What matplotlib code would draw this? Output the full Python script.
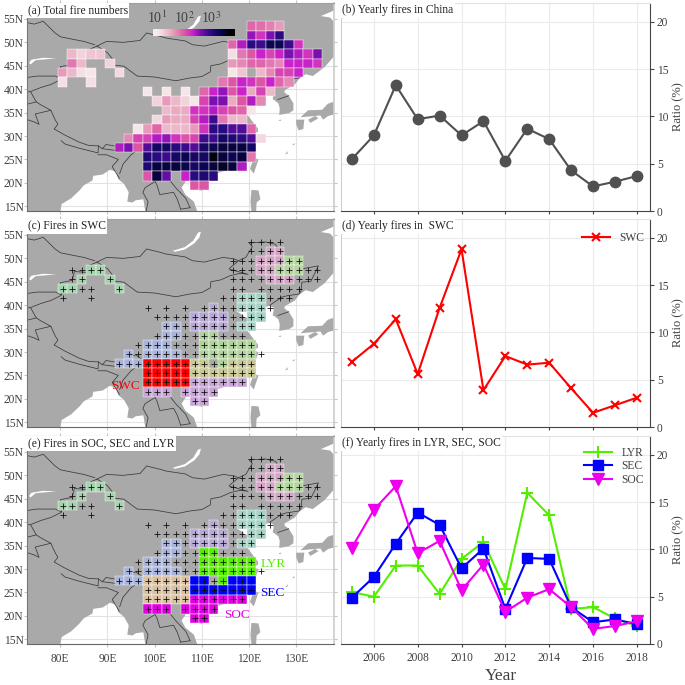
"""Fire number maps and yearly ratio curves, six panels. Writes out.png."""
import matplotlib
matplotlib.use("Agg")
import matplotlib.pyplot as plt
from matplotlib.colors import LinearSegmentedColormap, Normalize
from matplotlib.patches import Polygon, Rectangle
import numpy as np

plt.rcParams["font.family"] = ["Liberation Serif", "DejaVu Serif"]
plt.rcParams["mathtext.fontset"] = "stix"

years = list(range(2005, 2019))
china = [5.5, 8.0, 13.3, 9.7, 10.1, 8.0, 9.5, 5.3, 8.7, 7.6, 4.3, 2.6, 3.1, 3.7]
swc = [6.9, 8.8, 11.4, 5.6, 12.6, 18.8, 3.9, 7.5, 6.6, 6.8, 4.1, 1.5, 2.3, 3.1]
lyr = [5.5, 5.0, 8.3, 8.3, 5.3, 9.0, 10.8, 5.8, 16.0, 13.6, 3.7, 3.9, 2.7, 1.9]
sec = [4.9, 7.1, 10.6, 13.9, 12.6, 8.0, 10.1, 3.7, 9.1, 9.0, 3.9, 2.3, 2.6, 2.1]
soc = [10.2, 14.2, 16.7, 9.6, 10.9, 5.7, 8.4, 3.4, 4.9, 5.8, 3.9, 1.6, 1.9, 2.4]

# log10 fire number per 2 degree cell, one list per latitude row: (lon, value)
row_53 = [(120.5, 1.9), (122.5, 1.85), (124.5, 1.75), (126.5, 1.6)]
row_51 = [(120.5, 2.5), (122.5, 2.2), (124.5, 2.6), (126.5, 3.0)]
row_49 = [(116.5, 1.9), (118.5, 2.4), (120.5, 3.0), (122.5, 2.9), (124.5, 3.3),
          (126.5, 3.3), (128.5, 2.9), (130.5, 2.2)]
row_47 = [(82.5, 1.4), (84.5, 1.2), (86.5, 1.3), (88.5, 1.3), (116.5, 1.1),
          (118.5, 1.8), (120.5, 2.0), (122.5, 2.3), (124.5, 2.1), (126.5, 2.3),
          (128.5, 2.6), (130.5, 2.4), (132.5, 2.2), (134.5, 2.6)]
row_45 = [(82.5, 1.8), (84.5, 1.4), (90.5, 1.2), (116.5, 1.6), (118.5, 1.7),
          (120.5, 1.9), (122.5, 1.9), (124.5, 1.8), (126.5, 1.7), (128.5, 2.3),
          (130.5, 2.3), (132.5, 2.3), (134.5, 2.2)]
row_43 = [(80.5, 1.6), (82.5, 1.4), (84.5, 1.1), (86.5, 1.05), (92.5, 1.15),
          (116.5, 1.05), (118.5, 1.3), (122.5, 1.4), (124.5, 1.7), (126.5, 2.1),
          (128.5, 2.1), (130.5, 2.3)]
row_41 = [(80.5, 1.1), (86.5, 1.1), (114.5, 1.8), (116.5, 2.0), (118.5, 2.3),
          (120.5, 2.2), (122.5, 2.0), (124.5, 2.3), (126.5, 1.9), (128.5, 1.7)]
row_39 = [(98.5, 1.05), (102.5, 1.05), (106.5, 1.05), (110.5, 1.9), (112.5, 2.3),
          (114.5, 2.5), (116.5, 2.0), (118.5, 2.3), (120.5, 1.5), (122.5, 2.1),
          (124.5, 1.4)]
row_37 = [(100.5, 1.2), (102.5, 1.6), (104.5, 1.4), (106.5, 1.2), (108.5, 1.05),
          (110.5, 2.1), (112.5, 2.6), (114.5, 2.6), (116.5, 1.5), (118.5, 2.0),
          (120.5, 2.4), (122.5, 1.7)]
row_35 = [(102.5, 1.4), (104.5, 1.5), (106.5, 1.5), (108.5, 2.2), (110.5, 2.2),
          (112.5, 2.4), (114.5, 2.1), (116.5, 2.0), (118.5, 1.9), (120.5, 1.05)]
row_33 = [(100.5, 1.15), (102.5, 1.6), (104.5, 1.5), (106.5, 1.5), (108.5, 2.1),
          (110.5, 2.4), (112.5, 2.9), (114.5, 1.8), (116.5, 1.4), (118.5, 1.4)]
row_31 = [(96.5, 1.05), (98.5, 1.6), (100.5, 1.9), (102.5, 1.4), (104.5, 1.4),
          (106.5, 1.4), (108.5, 1.6), (110.5, 2.2), (112.5, 3.0), (114.5, 3.0),
          (116.5, 2.8), (118.5, 2.8), (120.5, 1.9)]
row_29 = [(94.5, 1.7), (96.5, 2.1), (98.5, 2.1), (100.5, 2.4), (102.5, 2.5),
          (104.5, 2.2), (106.5, 2.0), (108.5, 2.1), (110.5, 2.9), (112.5, 2.9),
          (114.5, 3.2), (116.5, 3.1), (118.5, 3.0), (120.5, 2.8), (122.5, 1.15)]
row_27 = [(92.5, 2.4), (94.5, 2.6), (96.5, 2.0), (98.5, 2.8), (100.5, 3.2),
          (102.5, 3.2), (104.5, 3.0), (106.5, 2.9), (108.5, 2.8), (110.5, 3.2),
          (112.5, 3.3), (114.5, 3.4), (116.5, 3.4), (118.5, 3.4), (120.5, 3.2)]
row_25 = [(98.5, 3.1), (100.5, 3.0), (102.5, 2.9), (104.5, 3.2), (106.5, 3.3),
          (108.5, 3.2), (110.5, 3.2), (112.5, 3.6), (114.5, 3.4), (116.5, 3.3),
          (118.5, 3.4), (120.5, 1.8)]
row_23 = [(98.5, 3.1), (100.5, 3.4), (102.5, 3.4), (104.5, 3.4), (106.5, 3.3),
          (108.5, 3.2), (110.5, 3.3), (112.5, 3.4), (114.5, 3.5), (116.5, 3.4),
          (118.5, 2.4)]
row_21 = [(98.5, 2.0), (100.5, 3.4), (102.5, 2.7), (106.5, 2.3), (108.5, 3.0),
          (110.5, 3.1), (112.5, 3.0)]
row_19 = [(108.5, 2.0), (110.5, 2.0)]
fire_rows = {53.5: row_53, 51.5: row_51, 49.5: row_49, 47.5: row_47, 45.5: row_45,
             43.5: row_43, 41.5: row_41, 39.5: row_39, 37.5: row_37, 35.5: row_35,
             33.5: row_33, 31.5: row_31, 29.5: row_29, 27.5: row_27, 25.5: row_25,
             23.5: row_23, 21.5: row_21, 19.5: row_19}

# cluster membership: (lat, [lons])
cl_nw = [(47.5, [86.5, 88.5]), (45.5, [84.5, 90.5]), (43.5, [80.5, 82.5, 92.5])]
cl_ne1 = [(51.5, [124.5, 126.5]), (49.5, [122.5, 124.5, 126.5]), (47.5, [122.5, 124.5]),
          (45.5, [124.5, 126.5, 128.5])]
cl_ne2 = [(49.5, [128.5, 130.5]), (47.5, [126.5, 128.5, 130.5])]
cl_nc = [(41.5, [118.5, 120.5, 122.5]), (39.5, [118.5, 120.5, 122.5]),
         (37.5, [120.5, 122.5]), (35.5, [118.5, 120.5])]
cl_hb = [(39.5, [112.5]), (37.5, [108.5, 110.5, 112.5, 114.5]),
         (35.5, [108.5, 110.5, 112.5, 114.5])]
cl_tp = [(35.5, [102.5, 104.5]), (33.5, [102.5, 104.5]), (31.5, [98.5, 100.5, 102.5]),
         (29.5, [94.5, 98.5, 100.5, 102.5, 104.5]), (27.5, [92.5, 94.5, 96.5])]
cl_swc = [(27.5, [98.5, 100.5, 102.5, 104.5, 106.5]),
          (25.5, [98.5, 100.5, 102.5, 104.5, 106.5]),
          (23.5, [98.5, 100.5, 102.5, 104.5, 106.5])]
cl_lyr = [(33.5, [110.5, 112.5]), (31.5, [110.5, 112.5, 114.5, 116.5, 118.5, 120.5]),
          (29.5, [110.5, 112.5, 114.5, 116.5, 118.5, 120.5]), (27.5, [114.5])]
cl_sec = [(27.5, [108.5, 110.5, 116.5, 118.5, 120.5]),
          (25.5, [108.5, 110.5, 112.5, 114.5, 116.5, 118.5, 120.5])]
cl_soc = [(23.5, [108.5, 110.5, 112.5, 114.5, 116.5, 118.5]),
          (21.5, [98.5, 100.5, 102.5, 106.5, 108.5, 110.5, 112.5]),
          (19.5, [108.5, 110.5])]

# map outlines, lon/lat
land = [(73, 60), (138, 60), (138, 47.0), (136, 44.7), (133.5, 42.8), (132, 43.2),
        (130.7, 42.3), (129.7, 41), (127.6, 39.8), (127.5, 39.3), (128.4, 38.6),
        (129.4, 37), (129.4, 35.5), (128.5, 34.9), (126.4, 34.5), (126.5, 36),
        (126.2, 37), (125, 37.9), (125.2, 38.7), (125.2, 39.5), (124.3, 39.9),
        (122, 39), (121.2, 38.8), (122, 40.5), (121, 40.8), (119.5, 39.8), (118, 39.2),
        (117.7, 38.5), (118.8, 37.8), (119, 37.2), (120.7, 37.8), (122.5, 37.2),
        (120.3, 36), (119.3, 35), (120.8, 33), (121.9, 31.6), (121.9, 30.9), (121, 30.5),
        (122, 29.9), (121.5, 28.5), (120, 26.5), (119, 25.3), (118, 24.4), (116.5, 23),
        (114, 22.3), (112, 21.7), (110.5, 21.2), (110.3, 20.3), (109.8, 20.3),
        (109.7, 21.5), (108.3, 21.6), (106.7, 20.5), (105.7, 19), (106.5, 17.5),
        (108.3, 16), (109, 14), (98, 14), (97.6, 16.5), (96, 16.3), (95.3, 15.8),
        (94.2, 16), (94.5, 18), (93.5, 19.8), (92.3, 20.8), (91.8, 22.4), (90.5, 22.8),
        (89, 21.8), (87, 21.5), (86.8, 20.5), (85, 19.5), (84, 18.3), (82.3, 16.7),
        (80.3, 15.5), (80, 14), (73, 14)]
hainan = [(108.7, 19.3), (109.6, 20), (110.7, 20), (111, 19.6), (110, 18.3), (109, 18.5)]
taiwan = [(121.5, 25.2), (122, 25), (121, 22), (120.2, 23), (120.7, 24.5)]
honshu = [(130.9, 34), (132.5, 35.5), (135.5, 35.6), (136.7, 36.9), (138.5, 37.5),
          (138.5, 34.7), (136.8, 34.3), (135.7, 33.5), (135.1, 34.4), (133, 34.2)]
kyushu = [(130, 33.5), (131.7, 33.5), (131.5, 31.5), (130.5, 31.2), (130, 32.5)]
shikoku = [(132.5, 33.5), (134, 34.3), (134.7, 33.8), (133, 32.8)]
luzon = [(120.5, 18.5), (122, 18.4), (122.4, 16.5), (121.6, 15.8), (121.5, 14),
         (120.5, 14), (120.3, 16)]
jeju = [(126.2, 33.4), (126.9, 33.5), (126.6, 33.2)]
okinawa = [(127.6, 26.1), (128.3, 26.8), (128.1, 26.2)]
amami = [(129.2, 28.2), (129.7, 28.5), (129.5, 28.0)]
sea_top = [(138.2, 56.9), (135.2, 55.6), (137.2, 55.3), (138.2, 54.1)]
baikal = [(103.8, 51.6), (106.4, 52.4), (108.2, 53.8), (109.2, 55.5), (109.8, 55.7),
          (109.5, 54.5), (108.4, 53.2), (106.4, 51.9), (104.3, 51.4)]
balkhash = [(73.4, 45.6), (73.9, 46.3), (76.4, 46.7), (79.1, 46.6), (77.1, 46.4),
            (74.8, 46.2), (73.7, 45.3)]

border_north = [(87.8, 49.2), (90, 47.8), (91, 46.5), (91, 45.2), (93.5, 44.9), (96.3, 42.8),
                (100, 42.6), (104.5, 41.8), (107.5, 42.4), (110, 42.7), (111.8, 43.7),
                (111.9, 45), (114, 45.4), (116, 46.3), (118, 46.8), (119.8, 46.6),
                (115.8, 47.7), (116, 48), (117.8, 49.5), (119.3, 50.2), (120.7, 52.5),
                (120, 53.3), (123.5, 53.5), (125.6, 53), (127.5, 50), (127.5, 49.7),
                (130.7, 48.9), (131, 47.7), (134.7, 48.4), (133.1, 45.1), (131.2, 44.9),
                (131, 43), (130.6, 42.4), (128, 42), (126.9, 41.7), (124.4, 40)]
border_west = [(87.8, 49.2), (85.7, 48.3), (85.5, 47), (83, 47.2), (82.5, 45.3), (80, 44.8),
               (80.4, 43), (80.2, 42.1), (78, 41), (76, 40.4), (73.7, 39.5), (74.9, 37.3),
               (75.8, 36.7), (78, 35.5), (78.9, 33.5), (79.5, 32.5), (78.7, 31.5), (81, 30.2),
               (84, 28.7), (86, 28), (88.1, 27.9), (88.9, 27.3), (89.7, 28.2), (92, 27.8),
               (93.5, 28.5), (96, 29.4), (97.5, 28.3), (98.7, 27.5), (98.6, 25.8),
               (97.6, 24.5), (99, 23.1), (99.5, 22), (101.2, 21.2), (101.8, 22.4), (103, 22.5),
               (105.3, 23.3), (106.7, 22), (108, 21.55)]
border_mongolia = [(87.8, 49.2), (89.8, 50.2), (93.3, 50), (96.9, 50.4), (98.3, 52),
                   (101.1, 51.3), (102.5, 50.9), (106.5, 50.3), (108, 49.5), (110.5, 49.2),
                   (114.5, 50.2), (116.7, 49.9), (117.8, 49.5)]
border_kaz = [(73, 54.2), (74.5, 53.9), (76.4, 54.5), (78.9, 52), (80, 51.2), (82.4, 50.7),
              (85, 50.2), (87.3, 49.5)]
border_kyr = [(73, 42.5), (75, 42.8), (79, 42.8), (80.2, 42.2)]
border_taj = [(73, 39.4), (73.7, 39.5)]
border_afg = [(73, 36.8), (74.9, 37.3)]
border_pak = [(73, 33.5), (74.5, 33), (75.5, 32.5), (74.7, 34.7), (78, 35.5)]
border_nep = [(80.2, 29), (81, 28.3), (84, 27.4), (88, 26.4), (88.1, 27.9)]
border_bhu = [(88.9, 27.3), (92, 26.9), (92, 27.8)]
border_ban = [(88, 26), (89.8, 26), (92.3, 25), (91, 23.5), (92.5, 21)]
border_mya = [(92.6, 22), (93.3, 24), (95, 26), (97.3, 27.8), (97.5, 28.3)]
border_tha = [(101.2, 21.2), (100.1, 20.3), (98, 19), (97.5, 18), (98.6, 16), (98.2, 14)]
border_lao = [(100.1, 20.3), (100.5, 19.5), (101.1, 17.5), (104, 18), (104.8, 16.5),
              (105.5, 14.4)]
border_vie = [(102.1, 22.4), (103, 20.8), (104.6, 18.8), (106.6, 16.7), (107.5, 14.7)]
border_cam = [(105.5, 14.4), (107.5, 14.7)]
border_kor = [(126.1, 37.8), (128.4, 38.6)]
borders = [border_north, border_west, border_mongolia, border_kaz, border_kyr, border_taj,
           border_afg, border_pak, border_nep, border_bhu, border_ban, border_mya, border_tha,
           border_lao, border_vie, border_cam, border_kor]

lat_ticks = [15, 20, 25, 30, 35, 40, 45, 50, 55]
lon_ticks = [80, 90, 100, 110, 120, 130]

TEXT = "#404040"
LAND = "#a9a9a9"

fire_cmap = LinearSegmentedColormap.from_list("fire", [
    (0.0, "#f6ecec"), (0.19, "#e9a9c0"), (0.37, "#dc55a6"), (0.48, "#cc22cc"),
    (0.59, "#7a10b0"), (0.74, "#2a0a80"), (0.85, "#0c0555"), (1.0, "#000000")])
fire_norm = Normalize(1.0, 3.7)


def px_axes(fig, left, top, right, bottom):
    return fig.add_axes([left / 685, 1 - bottom / 685, (right - left) / 685, (bottom - top) / 685])


def draw_map(ax, title, bottom_labels=False):
    ax.set_xlim(72.95, 138)
    ax.set_ylim(14.0, 58.4)
    ax.set_axisbelow(True)
    ax.grid(color="#e2e2e2", linewidth=0.8)
    for poly in [land, hainan, taiwan, honshu, kyushu, shikoku, luzon, jeju, okinawa, amami]:
        ax.add_patch(Polygon(poly, closed=True, facecolor=LAND, edgecolor="none", zorder=1))
    for poly in [sea_top, baikal, balkhash]:
        ax.add_patch(Polygon(poly, closed=True, facecolor="white", edgecolor="none", zorder=1.5))
    for line in borders:
        xy = np.array(line)
        ax.plot(xy[:, 0], xy[:, 1], color="#3a3a3a", linewidth=0.55, zorder=2)
    ax.set_xticks(lon_ticks)
    ax.set_yticks(lat_ticks)
    ax.set_yticklabels([f"{v}N" for v in lat_ticks], fontsize=8.3, color=TEXT)
    ax.tick_params(axis="y", length=2, color="#c4c4c4", pad=0.5, right=True)
    ax.tick_params(axis="x", length=2.5, color="#c4c4c4", pad=4, top=True)
    if bottom_labels:
        ax.set_xticklabels([f"{v}E" for v in lon_ticks], fontsize=8.3, color=TEXT)
    else:
        ax.set_xticklabels([])
    ax.spines["left"].set_color("#777777")
    ax.spines["bottom"].set_color("#666666")
    ax.spines["top"].set_color("#a0a0a0")
    ax.spines["right"].set_color("#cccccc")
    ax.spines["right"].set_linewidth(1.2)
    ax.text(0.002, 0.994, title, transform=ax.transAxes, fontsize=8.3, color="#222222",
            va="top", ha="left", zorder=6,
            bbox=dict(facecolor="white", edgecolor="none", pad=1.2))


def cell(ax, lon, lat, color, zorder=3):
    ax.add_patch(Rectangle((lon - 1, lat - 1), 2, 2, facecolor=color, edgecolor="white",
                           linewidth=0.3, zorder=zorder))


def fill_cluster(ax, cluster, color):
    for lat, lons in cluster:
        for lon in lons:
            cell(ax, lon, lat, color)


def plus_marks(ax):
    for lat, row in fire_rows.items():
        lons = [lon for lon, _ in row]
        ax.plot(lons, [lat] * len(lons), "+", color="#111111", markersize=3.7,
                markeredgewidth=0.6, zorder=4)


def draw_curves(ax, title, show_xlabels=False):
    ax.set_xlim(2004.5, 2018.6)
    ax.set_ylim(0, 22)
    ax.set_xticks(range(2006, 2019, 2))
    ax.set_yticks([0, 5, 10, 15, 20])
    ax.grid(color="#ebebeb", linewidth=0.8)
    ax.set_axisbelow(True)
    ax.yaxis.tick_right()
    ax.yaxis.set_label_position("right")
    ax.set_ylabel("Ratio (%)", fontsize=9, color=TEXT, labelpad=2.5)
    ax.tick_params(axis="y", labelsize=8.3, labelcolor=TEXT, length=3, color="#444444", pad=2)
    ax.tick_params(axis="x", labelsize=8.3, labelcolor=TEXT, length=2.5, color="#444444", pad=3)
    if not show_xlabels:
        ax.tick_params(axis="x", labelbottom=False)
    ax.spines["top"].set_color("#e2e2e2")
    ax.spines["left"].set_color("#cfcfcf")
    ax.spines["right"].set_color("#444444")
    ax.spines["bottom"].set_color("#444444")
    ax.text(0.003, 0.994, title, transform=ax.transAxes, fontsize=8.3, color="#222222",
            va="top", ha="left", zorder=6,
            bbox=dict(facecolor="white", edgecolor="none", pad=1.0))


fig = plt.figure(figsize=(6.85, 6.85), dpi=100)

# (a)
ax_a = px_axes(fig, 27, 3, 334, 211)
draw_map(ax_a, "(a) Total fire numbers")
for lat, row in fire_rows.items():
    for lon, val in row:
        cell(ax_a, lon, lat, fire_cmap(fire_norm(val)))
cax = px_axes(fig, 152.7, 29, 234.3, 36)
cax.imshow(np.linspace(0.84, 3.87, 256)[None, :], cmap=fire_cmap, norm=fire_norm, aspect="auto",
           extent=[0.84, 3.87, 0, 1])
cax.set_yticks([])
cax.set_xticks([1, 2, 3])
cax.set_xticklabels(["10$^{1}$", "10$^{2}$", "10$^{3}$"], fontsize=10, color=TEXT)
cax.xaxis.tick_top()
cax.tick_params(axis="x", length=0, pad=2)
for spine in cax.spines.values():
    spine.set_visible(False)

# (c)
ax_c = px_axes(fig, 27, 219, 334, 427)
draw_map(ax_c, "(c) Fires in SWC")
fill_cluster(ax_c, cl_nw, "#a4d4ae")
fill_cluster(ax_c, cl_ne1, "#d4a6c6")
fill_cluster(ax_c, cl_ne2, "#b4d4a0")
fill_cluster(ax_c, cl_nc, "#a6d2c6")
fill_cluster(ax_c, cl_hb, "#b8a8d6")
fill_cluster(ax_c, cl_tp, "#a8b4da")
fill_cluster(ax_c, cl_swc, "#ff0000")
fill_cluster(ax_c, cl_lyr, "#b0d29c")
fill_cluster(ax_c, cl_sec, "#c8c896")
fill_cluster(ax_c, cl_soc, "#c8a4d6")
plus_marks(ax_c)
ax_c.text(93.8, 22.8, "SWC", color="#ff0000", fontsize=9.5, ha="center", va="center", zorder=5)

# (e)
ax_e = px_axes(fig, 27, 436, 334, 644)
draw_map(ax_e, "(e) Fires in SOC, SEC and LYR", bottom_labels=True)
fill_cluster(ax_e, cl_nw, "#a4d4ae")
fill_cluster(ax_e, cl_ne1, "#d4a6c6")
fill_cluster(ax_e, cl_ne2, "#b4d4a0")
fill_cluster(ax_e, cl_nc, "#a6d2c6")
fill_cluster(ax_e, cl_hb, "#b8a8d6")
fill_cluster(ax_e, cl_tp, "#a8b4da")
fill_cluster(ax_e, cl_swc, "#d8c0a0")
fill_cluster(ax_e, cl_lyr, "#55ee00")
fill_cluster(ax_e, cl_sec, "#0000ff")
fill_cluster(ax_e, cl_soc, "#e000e0")
plus_marks(ax_e)
ax_e.text(125.1, 31.1, "LYR", color="#55ee00", fontsize=9.5, ha="center", va="center", zorder=5)
ax_e.text(124.9, 24.9, "SEC", color="#0000ff", fontsize=9.5, ha="center", va="center", zorder=5)
ax_e.text(117.4, 20.1, "SOC", color="#e000e0", fontsize=9.5, ha="center", va="center", zorder=5)

# (b)
ax_b = px_axes(fig, 341, 3, 650, 211)
draw_curves(ax_b, "(b) Yearly fires in China")
ax_b.plot(years, china, "o-", color="#505050", linewidth=1.5, markersize=7.5)

# (d)
ax_d = px_axes(fig, 341, 219, 650, 427)
draw_curves(ax_d, "(d) Yearly fires in  SWC")
ax_d.plot(years, swc, "x-", color="#ff0000", linewidth=1.5, markersize=5.5,
          markeredgewidth=1.5, label="SWC")
ax_d.legend(loc="upper right", frameon=False, fontsize=8.3, handlelength=2.4,
            bbox_to_anchor=(0.995, 0.958), borderaxespad=0, labelcolor=TEXT)

# (f)
ax_f = px_axes(fig, 341, 436, 650, 644)
draw_curves(ax_f, "(f) Yearly fires in LYR, SEC, SOC", show_xlabels=True)
ax_f.plot(years, lyr, "+-", color="#55ee00", linewidth=1.5, markersize=9,
          markeredgewidth=1.5, label="LYR")
ax_f.plot(years, sec, "s-", color="#0000ff", linewidth=1.5, markersize=6.5, label="SEC")
ax_f.plot(years, soc, "v-", color="#ee00ee", linewidth=1.5, markersize=8, label="SOC")
ax_f.legend(loc="upper right", frameon=False, fontsize=8.3, handlelength=2.4,
            bbox_to_anchor=(0.995, 0.97), borderaxespad=0, labelspacing=0.12, labelcolor=TEXT)
fig.text(501 / 685, 1 - 676 / 685, "Year", fontsize=12.5, color=TEXT, ha="center", va="center")

fig.savefig("out.png", dpi=100)
plt.close(fig)
print("wrote out.png")
